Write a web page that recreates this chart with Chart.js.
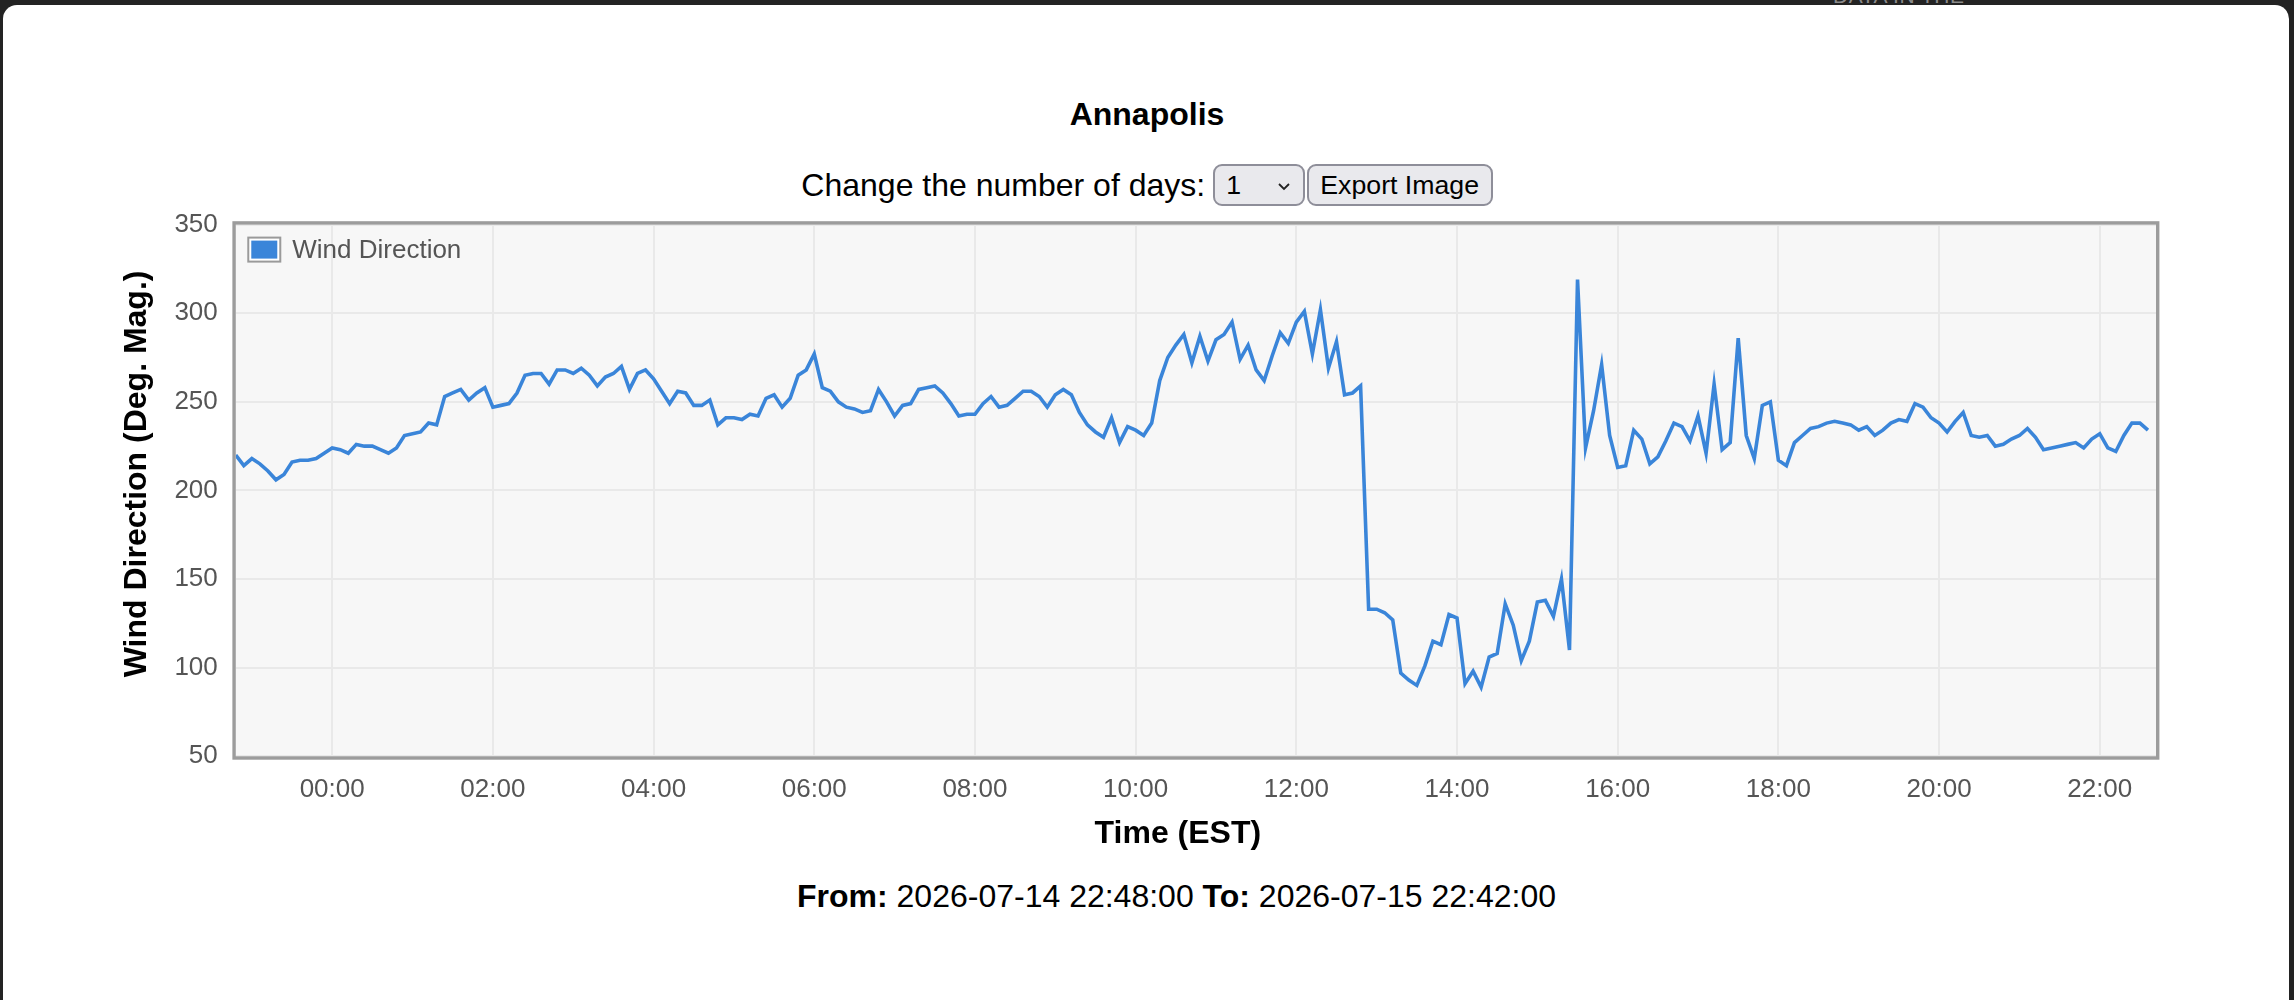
<!DOCTYPE html>
<html>
<head>
<meta charset="utf-8">
<title>Annapolis Wind Direction</title>
<script src="https://cdn.jsdelivr.net/npm/chart.js@4.4.1/dist/chart.umd.min.js"></script>
<style>
  html, body { margin: 0; padding: 0; }
  body { width: 2294px; height: 1000px; background: #232323; overflow: hidden; position: relative;
         font-family: 'Liberation Sans', Arial, Helvetica, sans-serif; }
  #behind { position: absolute; left: 1833px; top: -15px; font-size: 21px; line-height: 21px; color: #8a8a8a; letter-spacing: 0.5px; }
  #card { position: absolute; left: 3px; top: 5px; width: 2286px; height: 1020px; background: #ffffff; border-radius: 14px; }
  #title { position: absolute; left: 0; top: 98px; width: 2294px; text-align: center; font-weight: bold; font-size: 32px; line-height: 32px; color: #000; }
  #controls { position: absolute; left: 0; top: 164px; width: 2294px; height: 42px; display: flex; justify-content: center; align-items: center; font-size: 32px; color: #000; }
  #controls .lbl { margin-right: 8px; }
  .sel { box-sizing: border-box; width: 92px; height: 42px; border: 2px solid #8e8e99; border-radius: 9px; background: #e9e9ed;
         font-size: 26.7px; display: flex; align-items: center; padding-left: 11px; position: relative; }
  .sel svg { position: absolute; left: 62px; top: 16px; }
  .btn { box-sizing: border-box; width: 186px; height: 42px; margin-left: 1.5px; border: 2px solid #8e8e99; border-radius: 9px; background: #e9e9ed;
         font-size: 26.7px; display: flex; align-items: center; justify-content: center; }
  #chartBox { position: absolute; left: 110px; top: 190.5px; width: 2056px; height: 666.7px; }
  #range { position: absolute; left: 797px; top: 880px; font-size: 32px; line-height: 32px; color: #000; white-space: nowrap; }
</style>
</head>
<body>
<div id="behind">DATA IN THE</div>
<div id="card"></div>
<div id="title">Annapolis</div>
<div id="controls">
  <span class="lbl">Change the number of days:</span>
  <div class="sel"><span>1</span><svg width="14" height="9" viewBox="0 0 14 9"><polyline points="2,2 7,7 12,2" fill="none" stroke="#222" stroke-width="1.8"/></svg></div>
  <div class="btn">Export Image</div>
</div>
<div id="chartBox"><canvas id="chart"></canvas></div>
<div id="range"><b>From:</b> 2026-07-14 22:48:00 <b>To:</b> 2026-07-15 22:42:00</div>

<script>
// ---------------- data ----------------
const seriesLabel = 'Wind Direction';
const xAxisTitle = 'Time (EST)';
const yAxisTitle = 'Wind Direction (Deg. Mag.)';
const startMinute = -72;   // 22:48 on the previous day, minutes relative to midnight
const stepMinutes = 6;     // one reading every 6 minutes
const axisMinMinute = -72; // 2026-07-14 22:48
const axisMaxMinute = 1362; // 2026-07-15 22:42

const windDirection = [
  220,214,218,215,211,206,209,216,217,217,218,221,224,223,221,226,225,225,223,221,
  224,231,232,233,238,237,253,255,257,251,255,258,247,248,249,255,265,266,266,260,
  268,268,266,269,265,259,264,266,270,257,266,268,263,256,249,256,255,248,248,
  251,237,241,241,240,243,242,252,254,247,252,265,268,277,258,256,250,247,246,244,
  245,257,250,242,248,249,257,258,259,255,249,242,243,243,249,253,247,
  248,252,256,256,253,247,254,257,254,244,237,233,230,241,227,236,234,231,238,262,
  275,282,288,272,287,273,285,288,295,274,282,268,262,276,289,283,295,301,277,
  302,269,284,254,255,259,133,133,131,127,97,93,90,101,115,113,130,128,91,98,
  89,106,108,136,124,104,115,137,138,129,150,110,319,224,245,271,231,213,
  214,234,229,215,219,228,238,236,228,242,221,260,223,227,286,231,218,248,250,217,
  214,227,231,235,236,238,239,238,237,234,236,231,234,238,240,239,249,247,241,
  238,233,239,244,231,230,231,225,226,229,231,235,230,223,224,225,226,227,224,229,
  232,224,222,231,238,238,234
];

// reading times (minutes relative to midnight of 2026-07-15)
const readingMinutes = windDirection.map((_, i) => startMinute + i * stepMinutes);

const xTickValues = [0, 120, 240, 360, 480, 600, 720, 840, 960, 1080, 1200, 1320];
const xTickLabels = ['00:00','02:00','04:00','06:00','08:00','10:00','12:00','14:00','16:00','18:00','20:00','22:00'];
const yMin = 50, yMax = 350, yStep = 50;

// ---------------- styles ----------------
const lineColor = '#3a85d9';
const fontFamily = "'Liberation Sans', Arial, Helvetica, sans-serif";

Chart.defaults.font.family = fontFamily;

const plotFrame = {
  id: 'plotFrame',
  beforeDraw(chart) {
    const a = chart.chartArea, ctx = chart.ctx;
    ctx.save();
    ctx.fillStyle = '#f7f7f7';
    ctx.fillRect(a.left, a.top, a.right - a.left, a.bottom - a.top);
    ctx.restore();
  },
  beforeDatasetsDraw(chart) {
    // legend inside the plot, top-left
    const a = chart.chartArea, ctx = chart.ctx;
    const ds = chart.data.datasets[0];
    const bx = a.left + 11.5, by = a.top + 12;
    ctx.save();
    ctx.fillStyle = '#9a9a9a'; ctx.fillRect(bx, by, 34, 26);
    ctx.fillStyle = '#ffffff'; ctx.fillRect(bx + 2, by + 2, 30, 22);
    ctx.fillStyle = ds.backgroundColor; ctx.fillRect(bx + 4, by + 4, 26, 18);
    ctx.fillStyle = '#555';
    ctx.font = '26px ' + fontFamily;
    ctx.textBaseline = 'middle';
    ctx.textAlign = 'left';
    ctx.fillText(ds.label, bx + 45, by + 14);
    ctx.restore();
  },
  afterDatasetsDraw(chart) {
    const a = chart.chartArea, ctx = chart.ctx;
    ctx.save();
    ctx.strokeStyle = '#9c9c9c';
    ctx.lineWidth = 3.4;
    ctx.strokeRect(a.left - 1.7, a.top - 1.7, (a.right - a.left) + 3.4, (a.bottom - a.top) + 3.4);
    ctx.restore();
  },
  afterDraw(chart) {
    // axis titles, centred on the page area like the original
    const a = chart.chartArea, ctx = chart.ctx;
    ctx.save();
    ctx.fillStyle = '#000';
    ctx.font = 'bold 32px ' + fontFamily;
    ctx.textAlign = 'center';
    ctx.textBaseline = 'middle';
    ctx.fillText(xAxisTitle, (a.left + a.right) / 2 - 18, a.bottom + 78);
    ctx.translate(chart.scales.y.left + 27.2, (a.top + a.bottom) / 2 - 16.5);
    ctx.rotate(-Math.PI / 2);
    ctx.fillText(yAxisTitle, 0, 0);
    ctx.restore();
  }
};

new Chart(document.getElementById('chart'), {
  type: 'line',
  data: {
    datasets: [{
      label: seriesLabel,
      data: readingMinutes.map((m, i) => ({ x: m, y: windDirection[i] })),
      borderColor: lineColor,
      backgroundColor: lineColor,
      borderWidth: 3.6,
      pointRadius: 0,
      pointHoverRadius: 0,
      tension: 0,
      fill: false
    }]
  },
  options: {
    responsive: true,
    maintainAspectRatio: false,
    animation: false,
    layout: { padding: { top: 20.5, right: 10, left: 0, bottom: 0 } },
    scales: {
      x: {
        type: 'linear',
        min: axisMinMinute,
        max: axisMaxMinute,
        afterBuildTicks(scale) { scale.ticks = xTickValues.map(v => ({ value: v })); },
        ticks: {
          callback(v) { const i = xTickValues.indexOf(v); return i >= 0 ? xTickLabels[i] : ''; },
          font: { size: 26 }, color: '#555', padding: 18, maxRotation: 0, autoSkip: false
        },
        grid: { color: '#e9e9e9', lineWidth: 2, drawTicks: false },
        border: { display: false },
        // space reserved for the title; the visible title is drawn by plotFrame
        title: { display: true, text: xAxisTitle, color: 'rgba(0,0,0,0)',
                 font: { size: 32, weight: 'bold' }, padding: { top: -8.2, bottom: 4 } }
      },
      y: {
        min: yMin, max: yMax,
        ticks: { stepSize: yStep, font: { size: 26 }, color: '#555', padding: 18 },
        grid: { color: '#e9e9e9', lineWidth: 2, drawTicks: false },
        border: { display: false },
        title: { display: true, text: yAxisTitle, color: 'rgba(0,0,0,0)',
                 font: { size: 32, weight: 'bold' }, padding: { top: 8, bottom: 0 } }
      }
    },
    plugins: {
      legend: { display: false },
      tooltip: { enabled: false }
    }
  },
  plugins: [plotFrame]
});
</script>
</body>
</html>
